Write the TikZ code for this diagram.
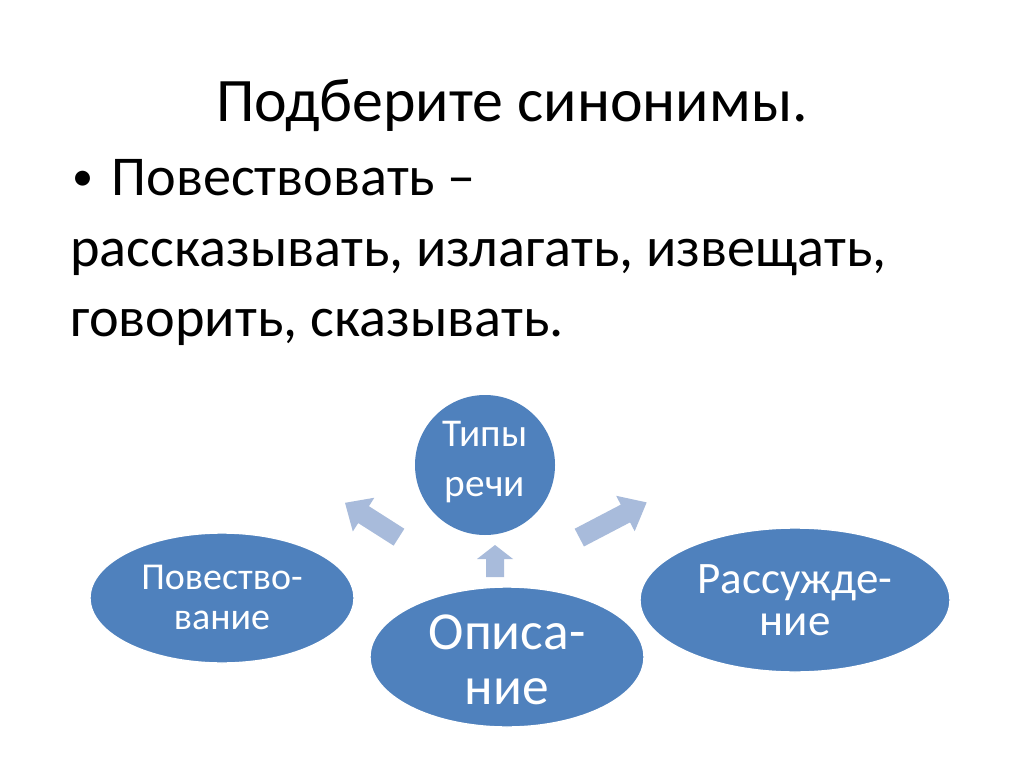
\documentclass[tikz,border=0pt]{standalone}
\usepackage{fontspec}
\setmainfont{Carlito}
\definecolor{blu}{HTML}{4F81BD}
\definecolor{arr}{HTML}{A8BBDB}
\newcommand{\blockarrow}[7]{% x,y,angle,length,shafthalf,headhalf,headlen
 \fill[arr,shift={(#1,#2)},rotate=#3] (-#4/2,-#5)--(#4/2-#7,-#5)--(#4/2-#7,-#6)--(#4/2,0)--(#4/2-#7,#6)--(#4/2-#7,#5)--(-#4/2,#5)--cycle;}
\begin{document}
\begin{tikzpicture}[x=0.025cm,y=-0.025cm,
 blob/.style={fill=blu,draw=white,line width=1pt},
 lbl/.style={text=white,align=center,inner sep=0pt}]
\useasboundingbox[fill=white] (0,0) rectangle (1024,767);
\node[font=\fontsize{44}{50}\selectfont,anchor=base] (t) at (512,122) {Подберите синонимы.};
\node[font=\fontsize{40}{46}\selectfont,anchor=base west,inner sep=0pt] (b) at (72,196) {\raisebox{4pt}{\fontsize{30}{30}\selectfont•}\hspace{13pt}Повествовать –};
\node[font=\fontsize{40}{46}\selectfont,anchor=base west,inner sep=0pt] (l1) at (70,266) {рассказывать, излагать, извещать,};
\node[font=\fontsize{40}{46}\selectfont,anchor=base west,inner sep=0pt] (l2) at (70,336) {говорить, сказывать.};
\path[fill=blu] (485,465) circle (70);
\node[lbl,font=\fontsize{28}{35.5}\selectfont] (c) at (485,462) {Типы\\речи};
\path[blob] (222,598) ellipse (132 and 65);
\node[lbl,font=\fontsize{27}{28.5}\selectfont] (p) at (222,597) {Повество-\\вание};
\path[blob] (507,657) ellipse (137 and 70);
\node[lbl,font=\fontsize{38}{39}\selectfont] (o) at (507,660) {Описа-\\ние};
\path[blob] (795,600) ellipse (155 and 72);
\node[lbl,font=\fontsize{32}{30}\selectfont] (r) at (795,600) {Рассужде-\\ние};
\blockarrow{372}{520}{147.5}{64}{10}{20}{22}
\blockarrow{495}{561}{90}{32}{9}{18}{14}
\blockarrow{613}{520}{27.6}{76}{10}{20}{24}
\end{tikzpicture}
\end{document}
